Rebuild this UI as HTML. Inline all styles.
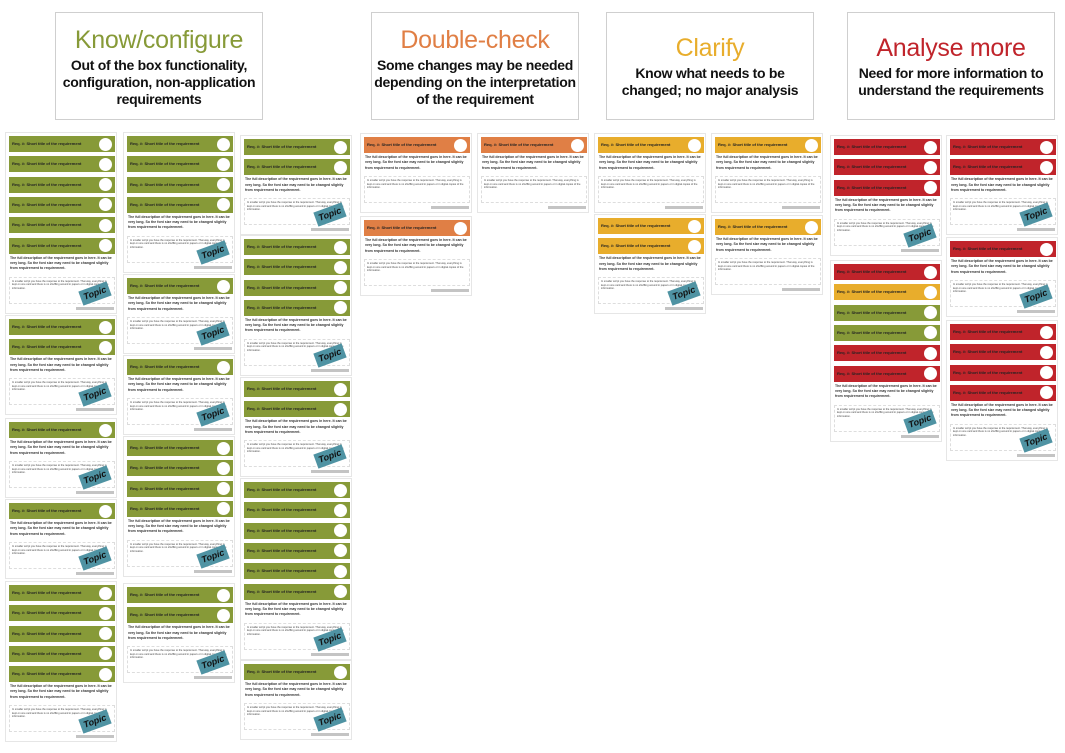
<!DOCTYPE html>
<html><head><meta charset="utf-8">
<style>
body{margin:0;width:1065px;height:753px;background:#fff;position:relative;overflow:hidden;font-family:"Liberation Sans",sans-serif}
.box{position:absolute;border:1.5px solid #cfcfcf;background:#fff;text-align:center;box-sizing:border-box;overflow:hidden}
.box h1{margin:0;font-weight:normal;font-size:25px;line-height:27px;letter-spacing:-0.3px}
.box p{margin:3px 0 0;font-size:14px;font-weight:bold;line-height:17px;color:#111;letter-spacing:-0.3px;white-space:nowrap}
.stack{position:absolute;border:1px solid #e6e6e6;background:#fff;box-sizing:border-box}
.hdr{position:absolute;height:16px;font-size:4px;font-weight:bold;color:#222;line-height:16px;padding-left:3px;box-sizing:border-box;white-space:nowrap}
.hdr i{position:absolute;right:3px;top:1.5px;width:13px;height:13px;border-radius:50%;background:#fff}
.desc{position:absolute;font-size:3.5px;font-weight:bold;line-height:5.3px;color:#333}
.resp{position:absolute;border:1px dashed #ddd;font-size:2.6px;line-height:3.6px;color:#444;padding:2px;box-sizing:border-box}
.topic{position:absolute;width:30px;height:15px;background:#4f93a3;transform:rotate(-20deg);font-size:9px;font-style:italic;font-weight:bold;text-align:center;line-height:15px;color:#111}
.status{position:absolute;height:3px;background:#c4c4c4}
</style></head><body>
<div class="box" style="left:55px;top:12px;width:208px;height:108px;padding-top:14px"><h1 style="color:#879a38">Know/configure</h1><p>Out of the box functionality,<br>configuration, non-application<br>requirements</p></div>
<div class="box" style="left:371px;top:12px;width:208px;height:108px;padding-top:14px"><h1 style="color:#e07f45">Double-check</h1><p>Some changes may be needed<br>depending on the interpretation<br>of the requirement</p></div>
<div class="box" style="left:606px;top:12px;width:208px;height:108px;padding-top:22px"><h1 style="color:#e8ad2c">Clarify</h1><p>Know what needs to be<br>changed; no major analysis</p></div>
<div class="box" style="left:847px;top:12px;width:208px;height:108px;padding-top:22px"><h1 style="color:#c0242b">Analyse more</h1><p>Need for more information to<br>understand the requirements</p></div>
<script>
const G='#879a38',O='#e07f45',Y='#e8ad2c',R='#c0242b';
const colX=[8,126,243,363,480,597,714,833,949];
// [column, first header top, colors, topic]
const stacks=[
[0,135,[G,G,G,G,G,G],1],[0,318,[G,G],1],[0,421,[G],1],[0,502,[G],1],[0,584,[G,G,G,G,G],1],
[1,135,[G,G,G,G],1],[1,277,[G],1],[1,358,[G],1],[1,439,[G,G,G,G],1],[1,586,[G,G],1],
[2,138,[G,G],1],[2,238,[G,G,G,G],1],[2,380,[G,G],1],[2,481,[G,G,G,G,G,G],1],[2,663,[G],1],
[3,136,[O],0],[3,219,[O],0],[4,136,[O],0],
[5,136,[Y],0],[5,217,[Y,Y],1],[6,136,[Y],0],[6,218,[Y],0],
[7,138,[R,R,R],1],[7,263,[R,Y,G,G,R,R],1],
[8,138,[R,R],1],[8,240,[R],1],[8,323,[R,R,R,R],1]];
const W=106;
stacks.forEach((s,si)=>{
  const x=colX[s[0]],top=s[1],cols=s[2];
  const n=cols.length,last=top+(n-1)*20.3,bottom=last+74;
  const st=document.createElement('div');st.className='stack';
  
  
  st.style.cssText=`left:${x-3}px;top:${top-3}px;width:${W+6}px;height:${bottom-top+6}px`;
  document.body.appendChild(st);
  cols.forEach((c,i)=>{
    const h=document.createElement('div');h.className='hdr';
    
    
    h.style.cssText=`left:3px;top:${3+i*20.3}px;width:${W}px;background:${c}`;
    h.innerHTML='Req. #: Short title of the requirement<i></i>';
    st.appendChild(h);
  });
  const b=3+(n-1)*20.3+18;
  const d=document.createElement('div');d.className='desc';
  
  
  d.style.cssText=`left:4px;top:${b}px;width:${W-2}px`;
  d.textContent='The full description of the requirement goes in here. It can be very long. So the font size may need to be changed slightly from requirement to requirement.';
  st.appendChild(d);
  const r=document.createElement('div');r.className='resp';
  
  
  r.style.cssText=`left:3px;top:${b+21}px;width:${W}px;height:27px`;
  r.textContent='In smaller script you have the response to the requirement. That way, everything is kept on one card and there is no shuffling around in papers or in digital copies of the information.';
  st.appendChild(r);
  if(s[3]){const t=document.createElement('div');t.className='topic';
    
    
    t.style.cssText=`left:${W-32}px;top:${b+30}px`;t.textContent='Topic';st.appendChild(t);}
  const q=document.createElement('div');q.className='status';
  
  
  q.style.cssText=`left:${W-36}px;top:${b+51}px;width:38px`;
  st.appendChild(q);
});
</script>
</body></html>
